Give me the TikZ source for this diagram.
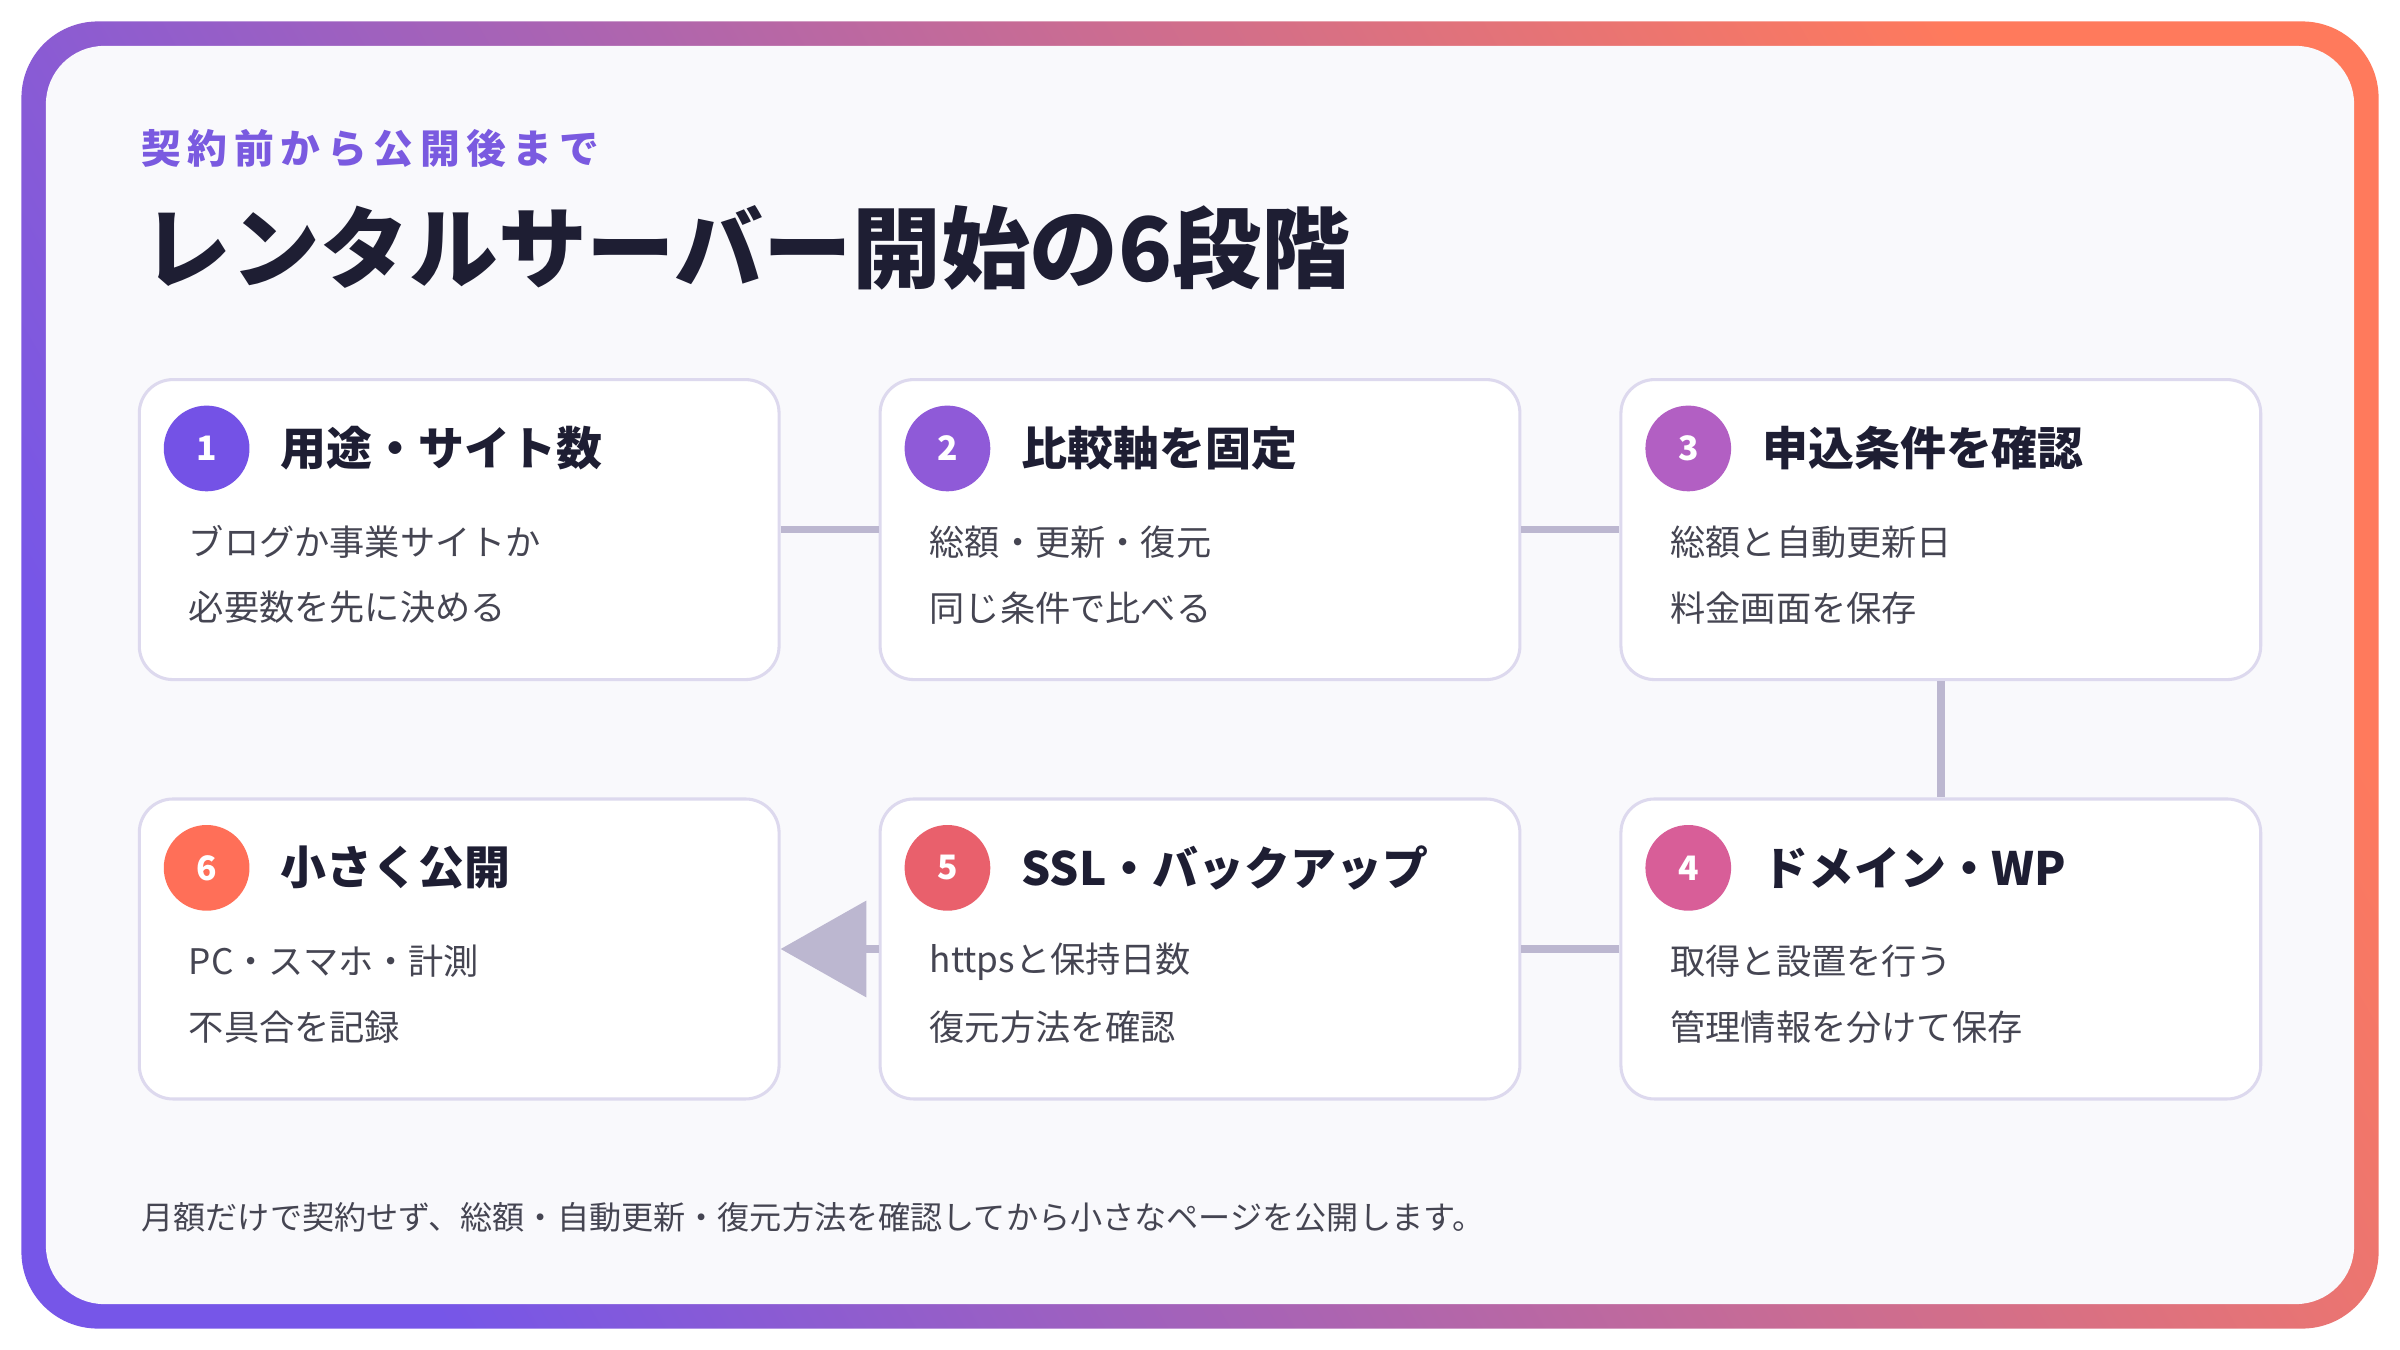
\documentclass[tikz,border=0pt]{standalone}
\usepackage{fontspec}
\setmainfont{Noto Sans CJK JP}
\usetikzlibrary{arrows.meta}
\definecolor{gA}{HTML}{7656E8}
\definecolor{gB}{HTML}{FF7A5C}
\definecolor{bg}{HTML}{F9F9FC}
\definecolor{cardb}{HTML}{DDD9EE}
\definecolor{conn}{HTML}{BCB7D0}
\definecolor{ttl}{HTML}{1E1E33}
\definecolor{body}{HTML}{454552}
\definecolor{sub}{HTML}{7A5AE0}
\definecolor{b1}{HTML}{7452E6}
\definecolor{b2}{HTML}{8F5AD8}
\definecolor{b3}{HTML}{B25FC3}
\definecolor{b4}{HTML}{D85E98}
\definecolor{b5}{HTML}{E9606C}
\definecolor{b6}{HTML}{FF6F58}
\tikzset{
 card/.style={draw=cardb,line width=1pt,fill=white,rounded corners=11pt,minimum width=209pt,minimum height=98pt,inner sep=0},
 badge/.style={circle,minimum size=28pt,inner sep=0,text=white,font=\bfseries\fontsize{11}{13}\selectfont},
 head/.style={anchor=west,inner sep=0,text=ttl,font=\bfseries\fontsize{15}{18}\selectfont},
 line/.style={anchor=west,inner sep=0,text=body,font=\fontsize{11.5}{14}\selectfont},
 conn/.style={draw=conn,line width=2.5pt}
}
\newcommand\mkcard[8]{%
 \node[card] (#1) at (#2,#3) {};
 \begin{scope}[shift={(#2,#3)}]
 \node[badge,fill=#5] (#1b) at (-165,-53) {#4};
 \node[head] (#1h) at (-117,-53) {#6};
 \node[line] (#1l1) at (-177,8) {#7};
 \node[line] (#1l2) at (-177,51) {#8};
 \end{scope}}
\begin{document}
\begin{tikzpicture}[x=0.5pt,y=-0.5pt]
\useasboundingbox (0,0) rectangle (1568,882);
\shade[rounded corners=25pt,left color=gA,right color=gB,shading angle=120] (14,14) rectangle (1554,868);
\fill[bg,rounded corners=19pt] (30,30) rectangle (1538,852);
\node[anchor=west,inner sep=0,text=sub,font=\bfseries\fontsize{13}{15}\selectfont] (sub) at (92,97) {契\,約\,前\,か\,ら\,公\,開\,後\,ま\,で};
\node[anchor=west,inner sep=0,text=ttl,font=\bfseries\fontsize{29}{34}\selectfont] (title) at (93,162) {レンタルサーバー開始の6段階};
\mkcard{c1}{300}{346}{1}{b1}{用途・サイト数}{ブログか事業サイトか}{必要数を先に決める}
\mkcard{c2}{784}{346}{2}{b2}{比較軸を固定}{総額・更新・復元}{同じ条件で比べる}
\mkcard{c3}{1268}{346}{3}{b3}{申込条件を確認}{総額と自動更新日}{料金画面を保存}
\mkcard{c4}{1268}{620}{4}{b4}{ドメイン・WP}{取得と設置を行う}{管理情報を分けて保存}
\mkcard{c5}{784}{620}{5}{b5}{SSL・バックアップ}{httpsと保持日数}{復元方法を確認}
\mkcard{c6}{300}{620}{6}{b6}{小さく公開}{PC・スマホ・計測}{不具合を記録}
\draw[conn] (c1.east) -- (c2.west);
\draw[conn] (c2.east) -- (c3.west);
\draw[conn] (c3.south) -- (c4.north);
\draw[conn] (c4.west) -- (c5.east);
\draw[conn,-{Triangle[length=28pt,width=31pt]}] (c5.west) -- (c6.east);
\node[anchor=west,inner sep=0,text=body,font=\fontsize{10.5}{13}\selectfont] (foot) at (92,795) {月額だけで契約せず、総額・自動更新・復元方法を確認してから小さなページを公開します。};
\end{tikzpicture}
\end{document}
